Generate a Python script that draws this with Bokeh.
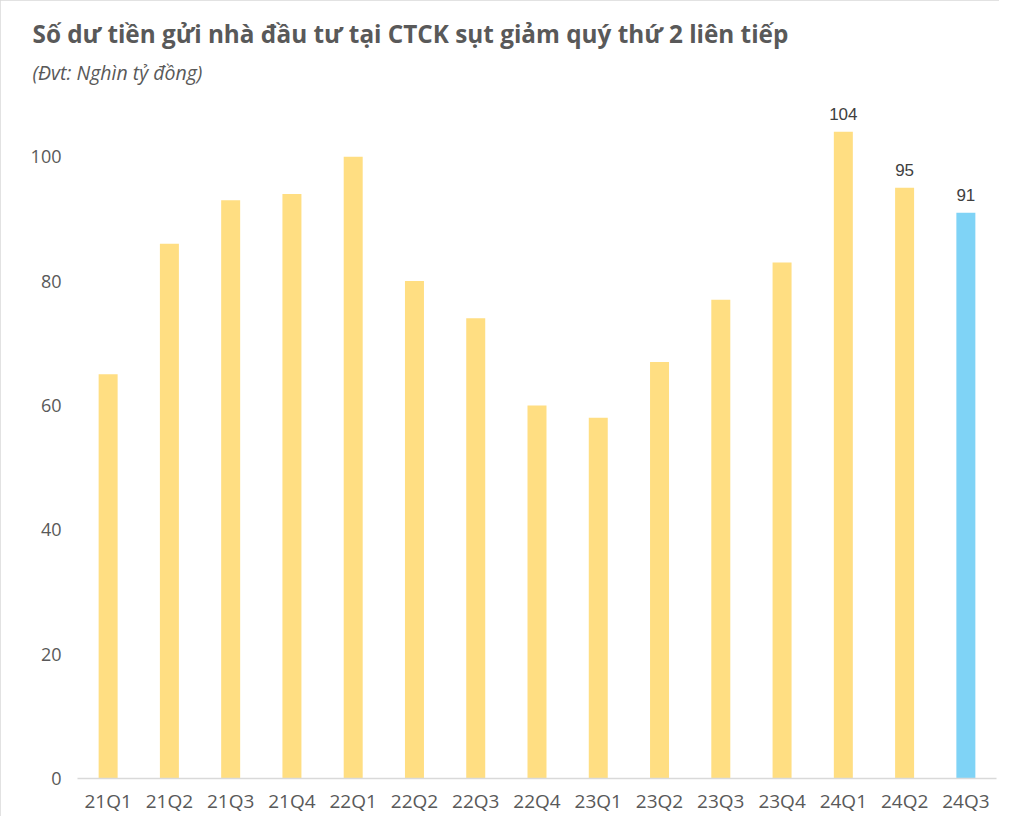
from bokeh.plotting import figure
from bokeh.models import ColumnDataSource, Range1d, FixedTicker, LabelSet, Title
from bokeh.core.properties import value
from bokeh.embed import file_html
from bokeh.resources import INLINE

# ---- data ----
quarters = ["21Q1", "21Q2", "21Q3", "21Q4", "22Q1", "22Q2", "22Q3", "22Q4",
            "23Q1", "23Q2", "23Q3", "23Q4", "24Q1", "24Q2", "24Q3"]
values = [65, 86, 93, 94, 100, 80, 74, 60, 58, 67, 77, 83, 104, 95, 91]
labeled_quarters = ["24Q1", "24Q2", "24Q3"]
highlight_quarter = "24Q3"
y_ticks = [0, 20, 40, 60, 80, 100]

title_text = "Số dư tiền gửi nhà đầu tư tại CTCK sụt giảm quý thứ 2 liên tiếp"
subtitle_text = "(Đvt: Nghìn tỷ đồng)"

# ---- styles ----
YELLOW = "#FFDE82"
BLUE = "#7FD3F6"
GRAY_TEXT = "#595959"

colors = [BLUE if q == highlight_quarter else YELLOW for q in quarters]
src = ColumnDataSource(dict(q=quarters, v=values, c=colors))
lab_src = ColumnDataSource(dict(
    q=[q for q in quarters if q in labeled_quarters],
    v=[v for q, v in zip(quarters, values) if q in labeled_quarters],
    t=[str(v) for q, v in zip(quarters, values) if q in labeled_quarters],
))

p = figure(x_range=quarters, y_range=Range1d(0, 110),
           width=999, height=816, output_backend="svg",
           toolbar_location=None, min_border_left=77, min_border_right=3,
           min_border_top=94, min_border_bottom=38)
p.styles = {"outline": "2px solid #D9D9D9", "outline-offset": "-2px"}

p.vbar(x="q", top="v", width=0.31, source=src, fill_color="c", line_color=None)

labels = LabelSet(x="q", y="v", text="t", source=lab_src, y_offset=12,
                  text_align="center", text_baseline="alphabetic",
                  text_font=value("Liberation Sans"), text_font_size="17px",
                  text_color="#404040")
p.add_layout(labels)

sub = Title(text=subtitle_text, text_font="Open Sans", text_font_size="19.5px",
            text_font_style="italic", text_color=GRAY_TEXT, offset=-45, standoff=18)
p.add_layout(sub, "above")
main = Title(text=title_text, text_font="Open Sans", text_font_size="24.3px",
             text_font_style="bold", text_color=GRAY_TEXT, offset=-45, standoff=-4)
p.add_layout(main, "above")

p.xgrid.visible = False
p.ygrid.visible = False
p.outline_line_color = None

p.yaxis.ticker = FixedTicker(ticks=y_ticks)
p.yaxis.axis_line_color = None
p.yaxis.major_tick_line_color = None
p.yaxis.minor_tick_line_color = None
p.yaxis.major_tick_out = 0
p.yaxis.major_tick_in = 0
p.yaxis.major_label_standoff = 16
p.yaxis.major_label_text_font = "Open Sans"
p.yaxis.major_label_text_font_size = "18px"
p.yaxis.major_label_text_color = GRAY_TEXT

p.xaxis.axis_line_color = "#D9D9D9"
p.xaxis.axis_line_width = 1.5
p.xaxis.major_tick_line_color = None
p.xaxis.minor_tick_line_color = None
p.xaxis.major_tick_out = 0
p.xaxis.major_tick_in = 0
p.xaxis.major_label_standoff = 9
p.xaxis.major_label_text_font = "Open Sans"
p.xaxis.major_label_text_font_size = "19px"
p.xaxis.major_label_text_color = GRAY_TEXT

open("out.html", "w").write(file_html(p, INLINE))
